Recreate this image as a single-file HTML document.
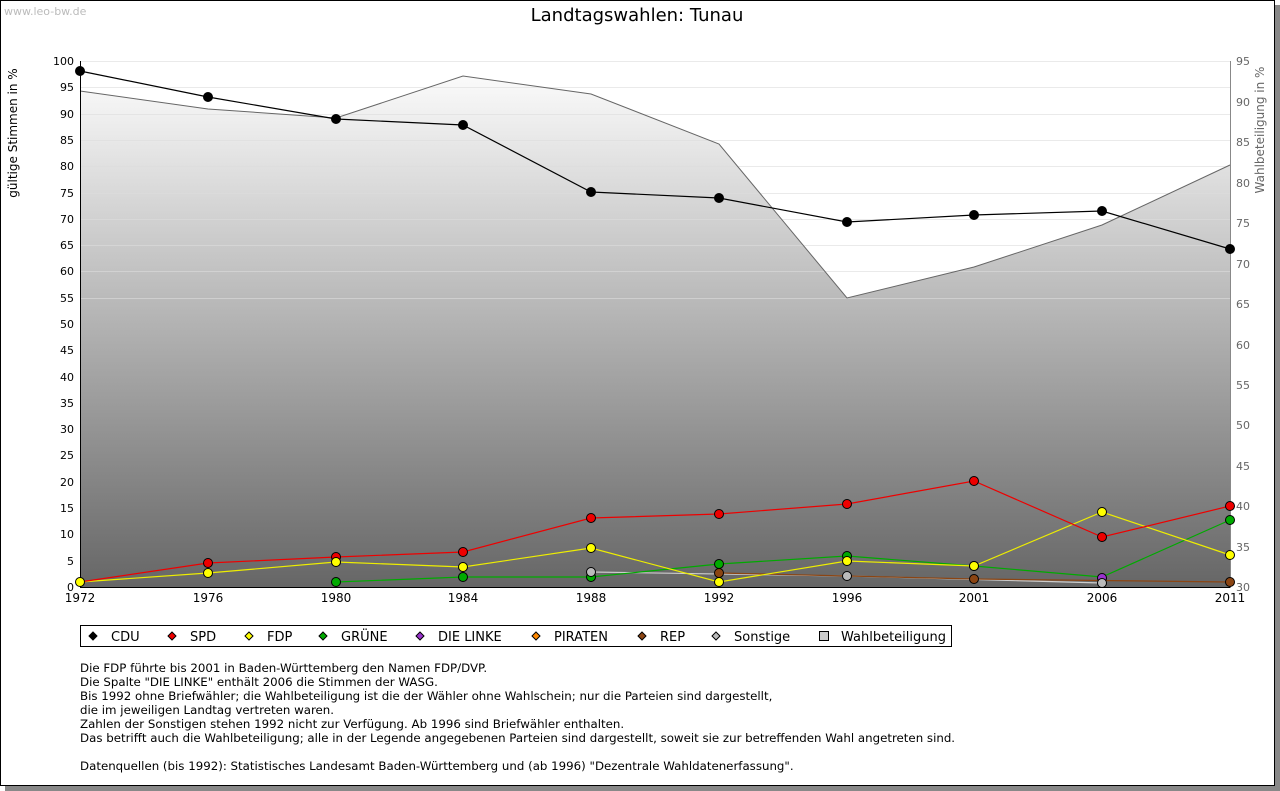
<!DOCTYPE html><html><head><meta charset="utf-8"><style>
body{margin:0;width:1280px;height:791px;background:#fff;font-family:"DejaVu Sans",sans-serif;position:relative;overflow:hidden}
.frame{position:absolute;left:0;top:0;width:1273px;height:784px;border:1px solid #000;box-shadow:5px 5px 0 #888;background:#fff}
.notes{position:absolute;left:80px;top:661px;font-size:11.8px;line-height:14px;color:#000}
</style></head><body><div class="frame"></div>
<svg width="1280" height="791" style="position:absolute;left:0;top:0" font-family="DejaVu Sans, sans-serif">
<defs><linearGradient id="g" x1="0" y1="0" x2="0" y2="1"><stop offset="0" stop-color="#fff"/><stop offset="1" stop-color="#666"/></linearGradient></defs>
<text x="4" y="15" font-size="11" fill="#bbb">www.leo-bw.de</text>
<text x="637" y="21" font-size="18" text-anchor="middle">Landtagswahlen: Tunau</text>
<rect x="80" y="61" width="1150" height="526" fill="url(#g)"/>
<polygon points="80,61 80,91 208,109 336,118 463,76 591,94 719,144 847,298 974,267 1102,225 1230,165 1230,61" fill="#fff"/>
<g stroke="#ddd" stroke-width="1" opacity="0.6">
<line x1="80" y1="61.5" x2="1230" y2="61.5"/><line x1="80" y1="87.5" x2="1230" y2="87.5"/><line x1="80" y1="114.5" x2="1230" y2="114.5"/><line x1="80" y1="140.5" x2="1230" y2="140.5"/><line x1="80" y1="166.5" x2="1230" y2="166.5"/><line x1="80" y1="193.5" x2="1230" y2="193.5"/><line x1="80" y1="219.5" x2="1230" y2="219.5"/><line x1="80" y1="245.5" x2="1230" y2="245.5"/><line x1="80" y1="271.5" x2="1230" y2="271.5"/><line x1="80" y1="298.5" x2="1230" y2="298.5"/></g>
<polyline points="80,91 208,109 336,118 463,76 591,94 719,144 847,298 974,267 1102,225 1230,165" fill="none" stroke="#666"/>
<line x1="80.5" y1="61" x2="80.5" y2="588" stroke="#000"/><line x1="80" y1="587.5" x2="1230" y2="587.5" stroke="#000"/>
<line x1="1230.5" y1="61" x2="1230.5" y2="588" stroke="#888"/>
<g font-size="11" text-anchor="end">
<text x="74" y="65">100</text><text x="74" y="91">95</text><text x="74" y="118">90</text><text x="74" y="144">85</text><text x="74" y="170">80</text><text x="74" y="197">75</text><text x="74" y="223">70</text><text x="74" y="249">65</text><text x="74" y="275">60</text><text x="74" y="302">55</text><text x="74" y="328">50</text><text x="74" y="354">45</text><text x="74" y="381">40</text><text x="74" y="407">35</text><text x="74" y="433">30</text><text x="74" y="459">25</text><text x="74" y="486">20</text><text x="74" y="512">15</text><text x="74" y="538">10</text><text x="74" y="565">5</text><text x="74" y="591">0</text></g>
<g font-size="11" fill="#666">
<text x="1236" y="65">95</text><text x="1236" y="106">90</text><text x="1236" y="146">85</text><text x="1236" y="187">80</text><text x="1236" y="227">75</text><text x="1236" y="268">70</text><text x="1236" y="308">65</text><text x="1236" y="349">60</text><text x="1236" y="389">55</text><text x="1236" y="429">50</text><text x="1236" y="470">45</text><text x="1236" y="510">40</text><text x="1236" y="551">35</text><text x="1236" y="591">30</text></g>
<g font-size="12" text-anchor="middle"><text x="80" y="602">1972</text><text x="208" y="602">1976</text><text x="336" y="602">1980</text><text x="463" y="602">1984</text><text x="591" y="602">1988</text><text x="719" y="602">1992</text><text x="847" y="602">1996</text><text x="974" y="602">2001</text><text x="1102" y="602">2006</text><text x="1230" y="602">2011</text></g>
<text transform="translate(17,133) rotate(-90)" font-size="12" text-anchor="middle">gültige Stimmen in %</text>
<text transform="translate(1264,130) rotate(-90)" font-size="12" text-anchor="middle" fill="#666">Wahlbeteiligung in %</text>
<g fill="none" stroke-width="1.2">
<polyline points="591,572 847,576 1102,583" stroke="#ccc"/>
<polyline points="719,573 974,579 1230,582" stroke="#8b4513"/>
<polyline points="336,582 463,577 591,577 719,564 847,556 974,566 1102,577 1230,520" stroke="#0a0"/>
<polyline points="80,582 208,573 336,562 463,567 591,548 719,582 847,561 974,566 1102,512 1230,555" stroke="#ee0"/>
<polyline points="80,582 208,563 336,557 463,552 591,518 719,514 847,504 974,481 1102,537 1230,506" stroke="#e00"/>
<polyline points="80,71 208,97 336,119 463,125 591,192 719,198 847,222 974,215 1102,211 1230,249" stroke="#000"/>
</g>
<g stroke="#000" stroke-width="1">
<g fill="#000"><circle cx="80" cy="71" r="4.5"/><circle cx="208" cy="97" r="4.5"/><circle cx="336" cy="119" r="4.5"/><circle cx="463" cy="125" r="4.5"/><circle cx="591" cy="192" r="4.5"/><circle cx="719" cy="198" r="4.5"/><circle cx="847" cy="222" r="4.5"/><circle cx="974" cy="215" r="4.5"/><circle cx="1102" cy="211" r="4.5"/><circle cx="1230" cy="249" r="4.5"/></g>
<g fill="#e00"><circle cx="208" cy="563" r="4.5"/><circle cx="336" cy="557" r="4.5"/><circle cx="463" cy="552" r="4.5"/><circle cx="591" cy="518" r="4.5"/><circle cx="719" cy="514" r="4.5"/><circle cx="847" cy="504" r="4.5"/><circle cx="974" cy="481" r="4.5"/><circle cx="1102" cy="537" r="4.5"/><circle cx="1230" cy="506" r="4.5"/></g>
<g fill="#0a0"><circle cx="336" cy="582" r="4.5"/><circle cx="463" cy="577" r="4.5"/><circle cx="591" cy="577" r="4.5"/><circle cx="719" cy="564" r="4.5"/><circle cx="847" cy="556" r="4.5"/><circle cx="974" cy="566" r="4.5"/><circle cx="1230" cy="520" r="4.5"/></g>
<circle cx="1102" cy="578" r="4.5" fill="#93c"/>
<g fill="#8b4513"><circle cx="719" cy="573" r="4.5"/><circle cx="974" cy="579" r="4.5"/><circle cx="1230" cy="582" r="4.5"/></g>
<g fill="#bbb"><circle cx="591" cy="572" r="4.5"/><circle cx="847" cy="576" r="4.5"/><circle cx="1102" cy="583" r="4.5"/></g>
<g fill="#ff0"><circle cx="80" cy="582" r="4.5"/><circle cx="208" cy="573" r="4.5"/><circle cx="336" cy="562" r="4.5"/><circle cx="463" cy="567" r="4.5"/><circle cx="591" cy="548" r="4.5"/><circle cx="719" cy="582" r="4.5"/><circle cx="847" cy="561" r="4.5"/><circle cx="974" cy="566" r="4.5"/><circle cx="1102" cy="512" r="4.5"/><circle cx="1230" cy="555" r="4.5"/></g>
</g>
<rect x="80.5" y="625.5" width="871" height="21" fill="#fff" stroke="#000"/>
<g stroke="#000" font-size="13">
<path d="M93 632l4 4-4 4-4-4z" fill="#000"/><text x="111" y="641" stroke="none">CDU</text>
<path d="M172 632l4 4-4 4-4-4z" fill="#e00"/><text x="190" y="641" stroke="none">SPD</text>
<path d="M249 632l4 4-4 4-4-4z" fill="#ff0"/><text x="267" y="641" stroke="none">FDP</text>
<path d="M323 632l4 4-4 4-4-4z" fill="#0a0"/><text x="341" y="641" stroke="none">GRÜNE</text>
<path d="M420 632l4 4-4 4-4-4z" fill="#93c"/><text x="438" y="641" stroke="none">DIE LINKE</text>
<path d="M536 632l4 4-4 4-4-4z" fill="#f80"/><text x="554" y="641" stroke="none">PIRATEN</text>
<path d="M642 632l4 4-4 4-4-4z" fill="#8b4513"/><text x="660" y="641" stroke="none">REP</text>
<path d="M716 632l4 4-4 4-4-4z" fill="#bbb"/><text x="734" y="641" stroke="none">Sonstige</text>
<rect x="819.5" y="631.5" width="9" height="9" fill="#ccc"/><text x="841" y="641" stroke="none">Wahlbeteiligung</text>
</g></svg>
<div class="notes">Die FDP führte bis 2001 in Baden-Württemberg den Namen FDP/DVP.<br>Die Spalte "DIE LINKE" enthält 2006 die Stimmen der WASG.<br>Bis 1992 ohne Briefwähler; die Wahlbeteiligung ist die der Wähler ohne Wahlschein; nur die Parteien sind dargestellt,<br>die im jeweiligen Landtag vertreten waren.<br>Zahlen der Sonstigen stehen 1992 nicht zur Verfügung. Ab 1996 sind Briefwähler enthalten.<br>Das betrifft auch die Wahlbeteiligung; alle in der Legende angegebenen Parteien sind dargestellt, soweit sie zur betreffenden Wahl angetreten sind.<br><br>Datenquellen (bis 1992): Statistisches Landesamt Baden-Württemberg und (ab 1996) "Dezentrale Wahldatenerfassung".</div>
</body></html>
